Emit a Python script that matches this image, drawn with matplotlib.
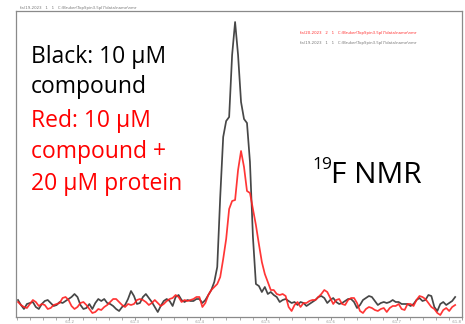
import matplotlib
matplotlib.use("Agg")
import numpy as np
import matplotlib.pyplot as plt

# 19F NMR traces, intensity (equally spaced points)
black = [17, 12, 8, 13, 14, 15, 10, 8, 13, 16, 17, 14, 11, 12, 15, 14, 16, 18, 20, 23,
         20, 12, 8, 9, 13, 8, 14, 18, 16, 18, 14, 13, 11, 8, 6, 10, 12, 18, 26, 21,
         13, 14, 20, 23, 19, 15, 10, 5, 11, 16, 18, 16, 11, 20, 22, 17, 15, 17, 16, 16,
         18, 18, 14, 17, 22, 27, 35, 50, 120, 180, 196, 200, 262, 295, 262, 215, 198, 194, 155, 80,
         33, 31, 25, 30, 23, 25, 22, 20, 15, 17, 18, 16, 14, 15, 12, 15, 14, 11, 13, 15,
         17, 20, 21, 19, 14, 17, 19, 15, 13, 14, 16, 18, 18, 15, 9, 12, 17, 19, 21, 20,
         16, 12, 14, 15, 14, 15, 17, 15, 15, 13, 13, 13, 11, 13, 17, 19, 16, 17, 22, 21,
         10, 6, 13, 15, 12, 14, 16, 20]
red = [15, 12, 10, 9, 13, 17, 15, 11, 13, 12, 8, 9, 12, 13, 14, 19, 20, 17, 11, 8,
       10, 14, 15, 12, 8, 4, 5, 8, 7, 10, 12, 15, 18, 18, 15, 12, 10, 13, 12, 13,
       17, 18, 17, 15, 12, 14, 17, 14, 11, 13, 16, 18, 19, 22, 20, 15, 17, 16, 17, 18,
       20, 20, 10, 14, 22, 27, 30, 33, 40, 58, 78, 108, 116, 117, 147, 166, 150, 126, 124, 108,
       92, 73, 55, 43, 35, 27, 27, 23, 22, 23, 21, 10, 6, 12, 15, 10, 14, 14, 16, 17,
       17, 20, 23, 27, 25, 19, 13, 17, 18, 13, 12, 17, 19, 19, 14, 6, 4, 8, 10, 9,
       7, 6, 8, 9, 5, 9, 11, 11, 13, 8, 7, 13, 13, 11, 17, 21, 20, 18, 14, 10,
       8, 4, 2, 7, 9, 6, 10, 12]
tick_labels = ["-61.2", "-61.3", "-61.4", "-61.5", "-61.6", "-61.7", "-61.8"]
header = "fa(19-2023   1   1   C:\\Bruker\\TopSpin3.5pl7\\data\\name\\nmr"
legend_red = "fa(20-2023   2   1   C:\\Bruker\\TopSpin3.5pl7\\data\\name\\nmr"
legend_black = "fa(19-2023   1   1   C:\\Bruker\\TopSpin3.5pl7\\data\\name\\nmr"

x = np.arange(len(black))

fig = plt.figure(figsize=(4.65, 3.24), dpi=100)
ax = fig.add_axes([16 / 465, 7 / 324, 446 / 465, 306 / 324])
ax.plot(x, black, color="#333333", lw=1.25, alpha=0.9)
ax.plot(x, red, color="#ff2020", lw=1.25, alpha=0.9)
ax.set_xlim(-0.67, 148)
ax.set_ylim(0, 306)

for s in ax.spines.values():
    s.set_color("#8a8a8a")
    s.set_linewidth(0.9)
ax.set_yticks([])
ax.set_xticks([17.3 + 22 * k for k in range(7)])
ax.set_xticks([17.3 + 22 * k / 5 for k in range(-4, 31)], minor=True)
ax.set_xticklabels(tick_labels, fontsize=2.8, color="#999999")
ax.get_xticklabels()[-1].set_horizontalalignment("right")
ax.tick_params(axis="x", which="major", length=2.5, width=0.6, color="#8a8a8a", pad=0)
ax.tick_params(axis="x", which="minor", length=2, width=0.5, color="#8a8a8a")

fig.text(20 / 465, 1 - 8 / 324, header, fontsize=2.8, color="#777777", va="center")
fig.text(300 / 465, 1 - 33 / 324, legend_red, fontsize=2.8, color="#ff3030", va="center")
fig.text(300 / 465, 1 - 43 / 324, legend_black, fontsize=2.8, color="#777777", va="center")

fnt = "Open Sans"
lines = [("Black: 10 \u00b5M", "black", 63), ("compound", "black", 93),
         ("Red: 10 \u00b5M", "#ff0000", 127), ("compound +", "#ff0000", 158),
         ("20 \u00b5M protein", "#ff0000", 190)]
for txt, col, yb in lines:
    fig.text(31 / 465, 1 - yb / 324, txt, fontsize=16.5, color=col, family=fnt, va="baseline")

fig.text(312 / 465, 1 - 169 / 324, "19", fontsize=12.5, color="black", family=fnt, va="baseline")
fig.text(331 / 465, 1 - 183 / 324, "F NMR", fontsize=21.5, color="black", family=fnt, va="baseline")

fig.savefig("out.png", dpi=100)
